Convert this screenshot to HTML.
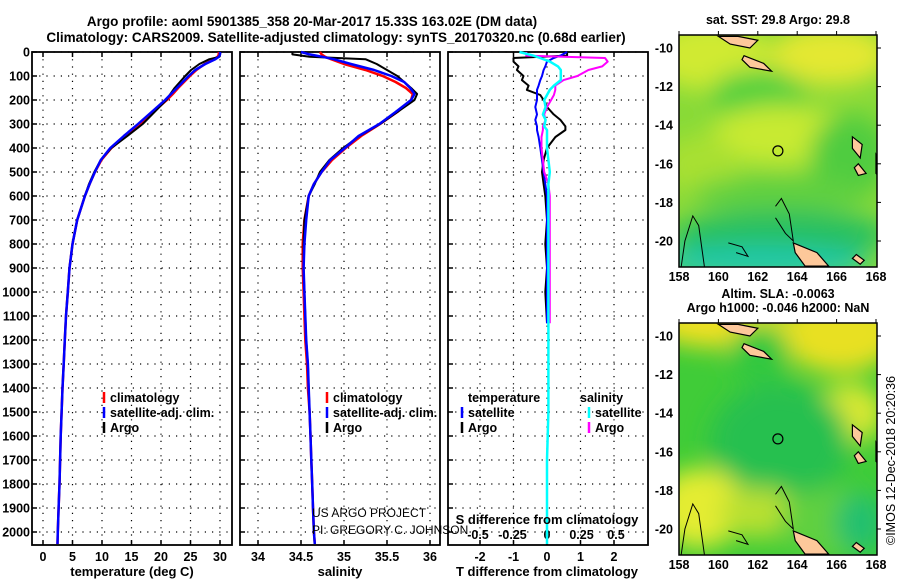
<!DOCTYPE html>
<html><head><meta charset="utf-8"><style>
html,body{margin:0;padding:0;background:#fff}
body{width:900px;height:580px;overflow:hidden;font-family:"Liberation Sans",sans-serif}
svg text{font-family:"Liberation Sans",sans-serif}
</style></head><body>
<svg id="chart" width="900" height="580">
<defs>
<filter id="blur" x="-50%" y="-50%" width="200%" height="200%"><feGaussianBlur stdDeviation="12"/></filter>
<clipPath id="clipTop"><rect x="679" y="35" width="198" height="232"/></clipPath>
<clipPath id="clipBot"><rect x="679" y="323" width="198" height="232"/></clipPath>
</defs>
<g id="titles">
<text x="312" y="26" text-anchor="middle" font-size="13.5" font-weight="bold">Argo profile: aoml 5901385_358 20-Mar-2017 15.33S 163.02E (DM data)</text>
<text x="336" y="42" text-anchor="middle" font-size="13.5" font-weight="bold">Climatology: CARS2009. Satellite-adjusted climatology: synTS_20170320.nc (0.68d earlier)</text>
</g>
<g id="plots"></g>
<g id="maps"></g>
</svg>
<script>
// ---- data ----
const depth = [0,10,20,30,50,75,100,125,150,175,200,250,300,350,400,450,500,550,600,700,800,900,1000,1100,1200,1300,1400,1500,1600,1700,1800,1900,2000,2050];
const tempClim = [29.8,29.8,29.6,29.0,27.4,26.0,24.9,23.9,22.9,22.0,21.0,18.7,16.4,14.0,11.6,9.9,8.8,7.9,7.1,5.8,5.0,4.5,4.2,3.9,3.7,3.5,3.3,3.15,3.0,2.9,2.8,2.65,2.5,2.45];
const tempSat = [30.0,30.0,29.8,29.2,27.5,25.8,24.7,23.7,22.7,21.7,20.7,18.4,16.1,13.7,11.4,9.8,8.8,7.9,7.1,5.8,5.0,4.5,4.2,3.9,3.7,3.5,3.3,3.15,3.0,2.9,2.8,2.65,2.5,2.45];
const tempArgo = [30.1,30.0,29.9,28.2,26.5,25.1,24.1,23.2,22.3,21.6,20.9,18.9,16.9,14.3,11.6,9.8,8.7,7.8,7.1,5.8,5.0,4.5,4.2,3.9,3.7,3.5,3.3,3.15,3.0,2.9,2.8,2.65,2.5];
const salClim = [34.72,34.74,34.78,34.85,35.0,35.25,35.45,35.6,35.72,35.8,35.78,35.62,35.42,35.2,35.02,34.86,34.74,34.65,34.59,34.54,34.52,34.52,34.53,34.54,34.55,34.57,34.58,34.6,34.61,34.62,34.63,34.64,34.65,34.66];
const salSat = [34.5,34.6,34.75,34.88,35.08,35.35,35.55,35.7,35.77,35.82,35.78,35.6,35.41,35.17,35.01,34.84,34.74,34.65,34.59,34.56,34.54,34.53,34.54,34.55,34.56,34.58,34.59,34.6,34.61,34.62,34.63,34.64,34.65,34.66];
const salArgo = [34.4,34.4,34.6,35.25,35.38,35.5,35.62,35.7,35.78,35.85,35.82,35.62,35.42,35.18,34.99,34.83,34.72,34.66,34.59,34.54,34.53,34.53,34.54,34.55,34.56,34.58,34.59,34.6,34.61,34.62,34.63,34.64,34.65];
const diffDepth = [0,15,25,40,60,75,100,117,140,158,179,200,229,260,283,310,325,354,400,450,500,550,600,700,800,900,1000,1130,1300,1500,1700,1900,2050];
const tDiffArgo = [0.6,0.6,-1.0,-1.0,-0.85,-0.9,-0.7,-0.75,-0.55,-0.6,-0.2,-0.1,0,0.2,0.4,0.55,0.55,0.25,0,-0.1,-0.15,-0.1,-0.05,0,-0.05,0,-0.05,0];
const tDiffSat = [0.6,0.4,0.2,0,-0.05,-0.1,-0.15,-0.2,-0.25,-0.3,-0.3,-0.3,-0.35,-0.3,-0.35,-0.3,-0.3,-0.25,-0.2,-0.15,-0.1,-0.05,0,0,0,0,0,0];
const sDiffArgo = [-0.15,-0.15,0.42,0.44,0.4,0.3,0.22,0.12,0.06,0.06,0.05,0.03,0,-0.02,-0.01,-0.03,-0.03,-0.04,-0.04,-0.03,-0.02,0.01,0.02,0.02,0.02,0.02,0.02,0.02];
const sDiffSat = [-0.2,-0.1,-0.05,0.02,0.08,0.1,0.1,0.1,0.05,0.02,0.0,-0.02,-0.01,-0.03,-0.01,-0.02,0,0,0,0.01,0.02,0.01,0.01,0.01,0.01,0.01,0.01,0.01,0.01,0.01,0.0,0.0,0.0];
const depthTicks = [0,100,200,300,400,500,600,700,800,900,1000,1100,1200,1300,1400,1500,1600,1700,1800,1900,2000];
const tempTicks = [0,5,10,15,20,25,30];
const salTicks = [34,34.5,35,35.5,36];
const tDiffTicks = [-2,-1,0,1,2];
const sDiffTicks = [-0.5,-0.25,0,0.25,0.5];
const lonTicks = [158,160,162,164,166,168];
const latTicks = [-10,-12,-14,-16,-18,-20];

// ---- scales ----
const TOP=52, BOT=545;
const yD = d => TOP + d*0.24;
const xT = t => 43 + t*5.9;
const xS = s => 258 + (s-34)*86;
const xTd = v => 547 + v*33.5;
const xSd = v => 547 + v*138;
const NS='http://www.w3.org/2000/svg';
const plots=document.getElementById('plots');
function mk(tag, attrs, parent){const e=document.createElementNS(NS,tag);for(const k in attrs)e.setAttribute(k,attrs[k]);(parent||plots).appendChild(e);return e;}
function txt(x,y,s,attrs,parent){const e=mk('text',Object.assign({x:x,y:y},attrs||{}),parent);e.textContent=s;return e;}

const panels=[{x0:32,x1:232,name:'temperature-panel'},{x0:240,x1:440,name:'salinity-panel'},{x0:448,x1:648,name:'difference-panel'}];
panels.forEach((p,i)=>{
  const g=mk('g',{});
  
  
  p.g=g;
  depthTicks.forEach(d=>{
    const l=mk('line',{x1:p.x0,x2:p.x1,y1:yD(d),y2:yD(d),stroke:'#000','stroke-width':1.2,'stroke-dasharray':'1.2 6'},g);
    
    
    mk('line',{x1:p.x0,x2:p.x0+5,y1:yD(d),y2:yD(d),stroke:'#000','stroke-width':1.5},g);
  });
});
function vgrid(p,ticks,fx,labelY,fmt){
  ticks.forEach(t=>{
    const x=fx(t);
    const l=mk('line',{x1:x,x2:x,y1:TOP,y2:BOT,stroke:'#000','stroke-width':1.2,'stroke-dasharray':'1.2 6'},p.g);
    
    
    mk('line',{x1:x,x2:x,y1:TOP,y2:TOP+5,stroke:'#000','stroke-width':1.5},p.g);
    mk('line',{x1:x,x2:x,y1:BOT,y2:BOT-5,stroke:'#000','stroke-width':1.5},p.g);
    if(labelY){const e=txt(x,labelY,fmt?fmt(t):String(t),{'text-anchor':'middle','font-size':12.5,'font-weight':'bold'},p.g);
      
      }
  });
}
vgrid(panels[0],tempTicks,xT,561);
vgrid(panels[1],salTicks,xS,561);
vgrid(panels[2],tDiffTicks,xTd,561);
depthTicks.forEach(d=>{
  const e=txt(30,yD(d)+4.5,String(d),{'text-anchor':'end','font-size':12.5,'font-weight':'bold'});
  
  
});
sDiffTicks.forEach(v=>{
  const e=txt(xSd(v),539,String(v),{'text-anchor':'middle','font-size':12.5,'font-weight':'bold'});
  
  
});
panels.forEach(p=>{
  const r=mk('rect',{x:p.x0,y:TOP,width:p.x1-p.x0,height:BOT-TOP,fill:'none',stroke:'#000','stroke-width':1.8},p.g);
  
  
});
function line(xs,ys,fx,color,w,name){
  let pts=[];
  for(let i=0;i<xs.length && i<ys.length;i++){if(xs[i]==null)continue;pts.push(fx(xs[i]).toFixed(1)+','+yD(ys[i]).toFixed(1));}
  const e=mk('polyline',{points:pts.join(' '),fill:'none',stroke:color,'stroke-width':w,'stroke-linejoin':'round'});
  
  
}
line(tempClim,depth,xT,'#ff0000',2.5,'temp-climatology-line');
line(tempArgo,depth,xT,'#000000',2,'temp-argo-line');
line(tempSat,depth,xT,'#0000ff',2.5,'temp-satellite-line');
line(salClim,depth,xS,'#ff0000',2.5,'sal-climatology-line');
line(salArgo,depth,xS,'#000000',2,'sal-argo-line');
line(salSat,depth,xS,'#0000ff',2.5,'sal-satellite-line');
line(tDiffArgo,diffDepth,xTd,'#000000',2,'tdiff-argo-line');
line(tDiffSat,diffDepth,xTd,'#0000ff',2,'tdiff-satellite-line');
line(sDiffArgo,diffDepth,xSd,'#ff00ff',2,'sdiff-argo-line');
line(sDiffSat,diffDepth,xSd,'#00ffff',2.5,'sdiff-satellite-line');

function legItem(x,y,color,label,name){
  const g=mk('g',{});
  
  
  mk('line',{x1:x,x2:x,y1:y-10,y2:y+1,stroke:color,'stroke-width':2.5},g);
  txt(x+6,y,label,{'font-size':12.5,'font-weight':'bold'},g);
}
[[104,'#ff0000','climatology'],[104,'#0000ff','satellite-adj. clim.'],[104,'#000','Argo']].forEach((a,i)=>legItem(a[0],402+i*15,a[1],a[2],'legend-entry'));
[[327,'#ff0000','climatology'],[327,'#0000ff','satellite-adj. clim.'],[327,'#000','Argo']].forEach((a,i)=>legItem(a[0],402+i*15,a[1],a[2],'legend-entry'));
txt(468,402,'temperature',{'font-size':12.5,'font-weight':'bold'});
txt(580,402,'salinity',{'font-size':12.5,'font-weight':'bold'});
legItem(462,417,'#0000ff','satellite','legend-entry');
legItem(462,432,'#000','Argo','legend-entry');
legItem(589,417,'#00ffff','satellite','legend-entry');
legItem(589,432,'#ff00ff','Argo','legend-entry');

[['temperature (deg C)',132],['salinity',340],['T difference from climatology',547]].forEach(a=>{
  const e=txt(a[1],576,a[0],{'text-anchor':'middle','font-size':13,'font-weight':'bold'});
  
  
});
const st=txt(547,524,'S difference from climatology',{'text-anchor':'middle','font-size':13,'font-weight':'bold'});


const n1=txt(312,517,'US ARGO PROJECT',{'font-size':12});


const n2=txt(312,534,'PI: GREGORY C. JOHNSON',{'font-size':12});



// ---- maps ----
const maps=document.getElementById('maps');
const xLon = lon => 679 + (lon-158)*19.7;
function drawMap(y0,clip,blobs,title,name,base,lonY){
  const yLat = lat => y0+13 + (-10-lat)*19.3;
  const g=mk('g',{},maps);
  
  
  const inner=mk('g',{'clip-path':'url(#'+clip+')'},g);
  mk('rect',{x:679,y:y0,width:198,height:232,fill:base},inner);
  const bg=mk('g',{filter:'url(#blur)'},inner);
  blobs.forEach(b=>mk('ellipse',{cx:b[0],cy:y0+b[1],rx:b[2],ry:b[3],fill:b[4]},bg));
  const isl=[[[161,-9.4],[162,-9.6],[161.6,-10],[160.6,-9.8],[160,-9.4]],[[161.3,-10.4],[162.3,-10.8],[162.7,-11.2],[161.6,-11],[161.2,-10.6]],
   [[166.8,-14.6],[167.3,-15.0],[167.2,-15.7],[166.8,-15.2]],[[167.1,-16],[167.5,-16.5],[167.1,-16.6],[166.9,-16.2]],
   [[168,-15.5],[168.3,-16],[168.3,-16.8],[168,-16.5]],[[163.8,-20.1],[165,-20.6],[165.6,-21.3],[164.4,-21.3],[163.9,-20.6]],
   [[167,-20.7],[167.4,-21],[167.2,-21.2],[166.8,-20.9]]];
  isl.forEach(pl=>{const e=mk('polygon',{points:pl.map(p=>xLon(p[0]).toFixed(1)+','+yLat(p[1]).toFixed(1)).join(' '),fill:'#fdc89a',stroke:'#000','stroke-width':1.2},inner);
    
    });
  const reefs=[[[158.1,-21.4],[158.3,-20],[158.7,-18.7],[159,-19.2],[159.3,-21.4]],[[162.9,-18.2],[163.2,-17.8],[163.6,-18.6],[163.8,-20],[163.4,-19.6],[162.9,-18.8]],
   [[160.5,-20.1],[161.2,-20.3],[161.5,-20.8],[160.9,-20.6]]];
  reefs.forEach(pl=>mk('polyline',{points:pl.map(p=>xLon(p[0]).toFixed(1)+','+yLat(p[1]).toFixed(1)).join(' '),fill:'none',stroke:'#000','stroke-width':1},inner));
  mk('circle',{cx:xLon(163.02),cy:yLat(-15.33),r:5,fill:'none',stroke:'#000','stroke-width':1.2},inner);
  mk('rect',{x:679,y:y0,width:198,height:232,fill:'none',stroke:'#000','stroke-width':1.5},g);
  lonTicks.forEach(l=>{mk('line',{x1:xLon(l),x2:xLon(l),y1:y0,y2:y0-4,stroke:'#000'},g);
    const e=txt(xLon(l),lonY,String(l),{'text-anchor':'middle','font-size':12.5,'font-weight':'bold'},g);
    
    });
  latTicks.forEach(l=>{mk('line',{x1:877,x2:881,y1:yLat(l),y2:yLat(l),stroke:'#000'},g);
    const e=txt(673,yLat(l)+4.5,String(l),{'text-anchor':'end','font-size':12.5,'font-weight':'bold'},g);
    
    });
  title.forEach((t,i)=>{const e=txt(778,y0-(title.length-i)*14+3,t,{'text-anchor':'middle','font-size':12.5,'font-weight':'bold'},g);
    
    });
}
drawMap(35,'clipTop',[
  [710,20,60,35,'#d0ea30'],[830,20,60,30,'#e4e830'],[760,60,50,25,'#50d040'],[780,100,70,30,'#c8ea30'],[700,130,40,30,'#a8e030'],
  [850,120,40,40,'#50cc40'],[780,160,90,20,'#60d040'],[780,200,110,25,'#28c060'],[760,228,110,18,'#20c8a8']],
  ['sat. SST: 29.8 Argo: 29.8'],'sst-map','#88da38',281);
drawMap(323,'clipBot',[
  [720,0,70,25,'#f0e020'],[840,10,60,40,'#e8e020'],[760,30,30,30,'#30c840'],[850,90,35,30,'#d8e830'],
  [780,120,70,60,'#28c050'],[700,185,45,40,'#e4ec30'],[760,190,40,25,'#b8e030'],[830,200,50,35,'#60d040'],[860,200,25,30,'#20c070']],
  ['Altim. SLA: -0.0063','Argo h1000: -0.046 h2000: NaN'],'sla-map','#40cc38',569);
const cr=txt(0,0,'\u00a9IMOS 12-Dec-2018 20:20:36',{'font-size':12.5,transform:'translate(895,545) rotate(-90)'},maps);


</script>
</body></html>
